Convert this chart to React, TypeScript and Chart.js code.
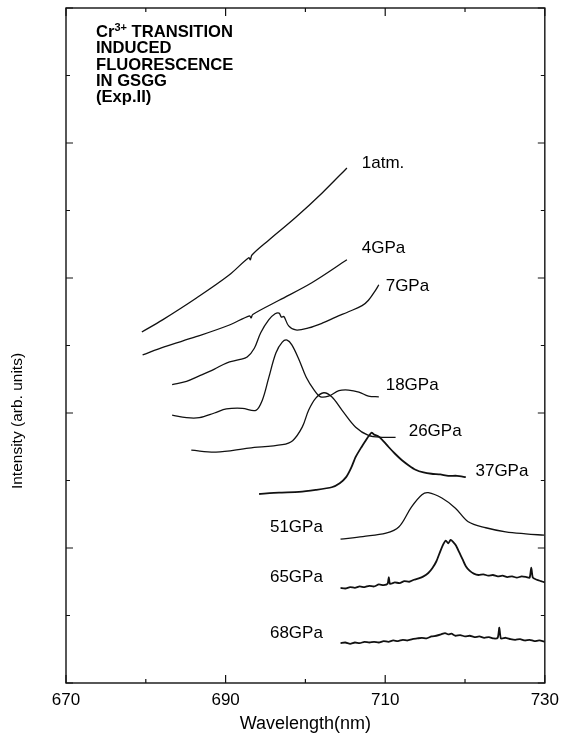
import React, { useEffect, useRef } from "react";
import { Chart, registerables } from "chart.js";
Chart.register(...registerables);

const FONT = "'Liberation Sans', Arial, Helvetica, sans-serif";

const X_MIN = 670;
const X_MAX = 730;
const Y_MIN = 0;
const Y_MAX = 10;
const X_TICK_LABELS = [670, 690, 710, 730];

// 1 atm
const wl1atm = [679.5, 682.1, 686.3, 690.4, 692.9, 693.1, 693.3, 695.4, 698.8, 702.1, 705.2];
const in1atm = [5.2, 5.38, 5.7, 6.04, 6.3, 6.27, 6.34, 6.56, 6.9, 7.26, 7.63];
// 4 GPa
const wl4 = [679.6, 682.3, 686.3, 690.4, 693.0, 693.2, 693.4, 696.7, 700.8, 705.2];
const in4 = [4.86, 4.98, 5.13, 5.3, 5.44, 5.41, 5.46, 5.67, 5.93, 6.27];
// 7 GPa
const wl7 = [683.3, 685.1, 686.7, 688.6, 690.1, 691.7, 692.7, 693.6, 694.4, 695.4, 696.2, 696.7, 697.0, 697.3, 697.9, 698.8, 700.4, 702.1, 703.8, 705.4, 707.1, 707.9, 708.8, 709.2];
const in7 = [4.42, 4.47, 4.55, 4.65, 4.74, 4.79, 4.83, 4.96, 5.19, 5.38, 5.47, 5.48, 5.42, 5.43, 5.29, 5.23, 5.26, 5.33, 5.42, 5.5, 5.59, 5.67, 5.82, 5.9];
// 18 GPa
const wl18 = [683.3, 685.1, 686.7, 688.6, 690.1, 692.1, 693.8, 694.6, 695.4, 696.3, 697.1, 697.7, 698.3, 699.2, 700.1, 701.1, 701.9, 702.9, 704.2, 705.4, 706.7, 707.9, 709.2];
const in18 = [3.97, 3.93, 3.93, 4.0, 4.06, 4.07, 4.04, 4.19, 4.52, 4.89, 5.05, 5.08, 5.01, 4.79, 4.53, 4.34, 4.24, 4.25, 4.33, 4.34, 4.31, 4.25, 4.24];
// 26 GPa
const wl26 = [685.7, 688.8, 692.9, 697.1, 698.4, 699.6, 700.4, 701.3, 702.3, 703.3, 704.6, 706.3, 707.9, 709.6, 711.3];
const in26 = [3.45, 3.42, 3.48, 3.53, 3.59, 3.79, 4.04, 4.22, 4.3, 4.24, 4.04, 3.79, 3.67, 3.64, 3.64];
// 37 GPa
const wl37 = [694.2, 696.7, 699.2, 701.3, 703.3, 704.3, 705.1, 705.7, 706.3, 707.0, 707.6, 708.0, 708.3, 708.6, 709.2, 709.8, 710.4, 711.2, 712.1, 713.0, 713.8, 714.8, 715.8, 716.9, 717.9, 719.0, 720.1];
const in37 = [2.8, 2.82, 2.83, 2.86, 2.9, 2.96, 3.05, 3.18, 3.35, 3.49, 3.6, 3.67, 3.71, 3.68, 3.65, 3.58, 3.5, 3.4, 3.3, 3.22, 3.16, 3.12, 3.1, 3.09, 3.07, 3.07, 3.05];
// 51 GPa
const wl51 = [704.4, 707.2, 710.1, 711.7, 713.3, 714.6, 715.4, 717.1, 718.8, 720.4, 722.6, 725.1, 727.6, 729.9];
const in51 = [2.13, 2.17, 2.22, 2.31, 2.61, 2.79, 2.82, 2.74, 2.59, 2.39, 2.3, 2.24, 2.21, 2.19];
// 65 GPa
const wl65 = [704.4, 705.0, 705.6, 706.2, 706.8, 707.4, 708.0, 708.6, 709.2, 709.8, 710.3, 710.45, 710.6, 711.2, 711.8, 712.4, 713.0, 713.6, 714.2, 714.8, 715.4, 715.9, 716.4, 716.9, 717.3, 717.6, 717.9, 718.2, 718.5, 718.9, 719.3, 719.7, 720.1, 720.6, 721.1, 721.7, 722.3, 722.9, 723.5, 724.1, 724.7, 725.3, 725.9, 726.5, 727.1, 727.7, 728.1, 728.3, 728.5, 729.0, 729.5, 730.0];
const in65 = [1.41, 1.4, 1.42, 1.41, 1.43, 1.42, 1.44, 1.43, 1.46, 1.45, 1.47, 1.57, 1.47, 1.49, 1.48, 1.51, 1.5, 1.53, 1.55, 1.58, 1.63, 1.7, 1.8, 1.95, 2.06, 2.11, 2.07, 2.12, 2.09, 2.03, 1.93, 1.83, 1.73, 1.66, 1.62, 1.6, 1.61, 1.59, 1.6, 1.58, 1.59, 1.57, 1.58, 1.56, 1.58, 1.57, 1.56, 1.71, 1.56, 1.53, 1.51, 1.49];
// 68 GPa
const wl68 = [704.4, 705.0, 705.6, 706.2, 706.8, 707.4, 708.0, 708.6, 709.2, 709.8, 710.4, 711.0, 711.6, 712.2, 712.8, 713.4, 714.0, 714.6, 715.2, 715.8, 716.4, 717.0, 717.5, 717.9, 718.3, 718.8, 719.4, 720.0, 720.6, 721.2, 721.8, 722.4, 723.0, 723.6, 724.1, 724.3, 724.5, 725.1, 725.7, 726.3, 726.9, 727.5, 728.1, 728.7, 729.3, 730.0];
const in68 = [0.59, 0.6, 0.58, 0.6, 0.59, 0.61, 0.6, 0.61, 0.6, 0.62, 0.61, 0.63, 0.62, 0.64, 0.63, 0.65, 0.66, 0.67, 0.66, 0.69, 0.7, 0.72, 0.74, 0.72, 0.73, 0.7, 0.71, 0.69, 0.7, 0.68, 0.69, 0.67, 0.68, 0.66, 0.67, 0.82, 0.66, 0.67, 0.65, 0.64, 0.65, 0.63, 0.64, 0.62, 0.63, 0.61];

const SERIES_NAMES = ["1atm.", "4GPa", "7GPa", "18GPa", "26GPa", "37GPa", "51GPa", "65GPa", "68GPa"];
const SERIES_X = [wl1atm, wl4, wl7, wl18, wl26, wl37, wl51, wl65, wl68];
const SERIES_Y = [in1atm, in4, in7, in18, in26, in37, in51, in65, in68];
const SERIES_WIDTH = [1.3, 1.3, 1.3, 1.3, 1.3, 1.8, 1.3, 1.8, 1.8];

// series label anchors (wavelength, intensity) and alignment
const LABEL_WL = [707.06, 707.06, 710.06, 710.06, 712.94, 721.31, 702.19, 702.19, 702.19];
const LABEL_INT = [7.7, 6.44, 5.87, 4.41, 3.73, 3.13, 2.31, 1.57, 0.74];
const LABEL_ALIGN = ["left", "left", "left", "left", "left", "left", "right", "right", "right"];

const TITLE_LINES = ["TRANSITION", "INDUCED", "FLUORESCENCE", "IN GSGG", "(Exp.II)"];

const framePlugin = {
  id: "frame",
  afterDraw(chart: any) {
    const { ctx, chartArea } = chart;
    const xs = chart.scales.x;
    const ys = chart.scales.y;
    const { left, right, top, bottom } = chartArea;
    ctx.save();
    ctx.strokeStyle = "#111";
    ctx.lineWidth = 1.4;
    ctx.strokeRect(left, top, right - left, bottom - top);
    ctx.lineWidth = 1.2;
    ctx.beginPath();
    for (let v = X_MIN; v <= X_MAX; v += 10) {
      const p = xs.getPixelForValue(v);
      const len = X_TICK_LABELS.includes(v) ? 8 : 4;
      ctx.moveTo(p, bottom);
      ctx.lineTo(p, bottom - len);
      ctx.moveTo(p, top);
      ctx.lineTo(p, top + len);
    }
    for (let v = Y_MIN; v <= Y_MAX; v += 1) {
      const p = ys.getPixelForValue(v);
      const len = v % 2 === 0 ? 7 : 4;
      ctx.moveTo(left, p);
      ctx.lineTo(left + len, p);
      ctx.moveTo(right, p);
      ctx.lineTo(right - len, p);
    }
    ctx.stroke();

    // series labels
    ctx.fillStyle = "#000";
    ctx.font = `17px ${FONT}`;
    ctx.textBaseline = "middle";
    SERIES_NAMES.forEach((name, i) => {
      ctx.textAlign = LABEL_ALIGN[i] as CanvasTextAlign;
      ctx.fillText(name, xs.getPixelForValue(LABEL_WL[i]), ys.getPixelForValue(LABEL_INT[i]));
    });

    // title block
    ctx.textAlign = "left";
    ctx.textBaseline = "alphabetic";
    const tx = left + 30;
    let ty = top + 29;
    ctx.font = `bold 16.6px ${FONT}`;
    ctx.fillText("Cr", tx, ty);
    let w = ctx.measureText("Cr").width;
    ctx.font = `bold 11px ${FONT}`;
    ctx.fillText("3+", tx + w, ty - 6);
    w += ctx.measureText("3+").width;
    ctx.font = `bold 16.6px ${FONT}`;
    ctx.fillText(" " + TITLE_LINES[0], tx + w, ty);
    for (let i = 1; i < TITLE_LINES.length; i++) {
      ty += 16.3;
      ctx.fillText(TITLE_LINES[i], tx, ty);
    }

    // y axis title
    ctx.save();
    ctx.translate(18, 421);
    ctx.rotate(-Math.PI / 2);
    ctx.textAlign = "center";
    ctx.textBaseline = "middle";
    ctx.font = `15.5px ${FONT}`;
    ctx.fillText("Intensity (arb. units)", 0, 0);
    ctx.restore();
    ctx.restore();
  },
};

export default function App() {
  const ref = useRef<HTMLCanvasElement>(null);
  useEffect(() => {
    if (!ref.current) return;
    const datasets = SERIES_NAMES.map((name, i) => ({
      label: name,
      data: SERIES_X[i].map((x, j) => ({ x, y: SERIES_Y[i][j] })),
      borderColor: "#111",
      borderWidth: SERIES_WIDTH[i],
      pointRadius: 0,
      fill: false,
      tension: SERIES_WIDTH[i] > 1.5 ? 0.2 : 0.35,
    }));
    const chart = new Chart(ref.current, {
      type: "line",
      data: { datasets } as any,
      options: {
        animation: false,
        responsive: true,
        maintainAspectRatio: false,
        layout: { padding: { top: 8, right: 19, left: 0, bottom: 0 } },
        plugins: { legend: { display: false }, tooltip: { enabled: false } },
        scales: {
          x: {
            type: "linear",
            min: X_MIN,
            max: X_MAX,
            grid: { display: false, drawTicks: false },
            border: { display: false },
            ticks: {
              stepSize: 10,
              autoSkip: false,
              maxRotation: 0,
              padding: 7,
              color: "#000",
              font: { size: 17, family: FONT },
              callback: (v: any) => (X_TICK_LABELS.includes(Number(v)) ? String(v) : ""),
            },
            title: {
              display: true,
              text: "Wavelength(nm)",
              color: "#000",
              font: { size: 18, family: FONT },
              padding: { top: 0, bottom: 3 },
            },
            afterFit: (s: any) => {
              s.height = 55;
            },
          },
          y: {
            type: "linear",
            min: Y_MIN,
            max: Y_MAX,
            grid: { display: false, drawTicks: false },
            border: { display: false },
            ticks: { display: false },
            afterFit: (s: any) => {
              s.width = 66;
            },
          },
        },
      } as any,
      plugins: [framePlugin],
    });
    return () => chart.destroy();
  }, []);
  return (
    <div style={{ position: "absolute", left: 0, top: 0, width: 566, height: 738, background: "#fff" }}>
      <canvas ref={ref} />
    </div>
  );
}
